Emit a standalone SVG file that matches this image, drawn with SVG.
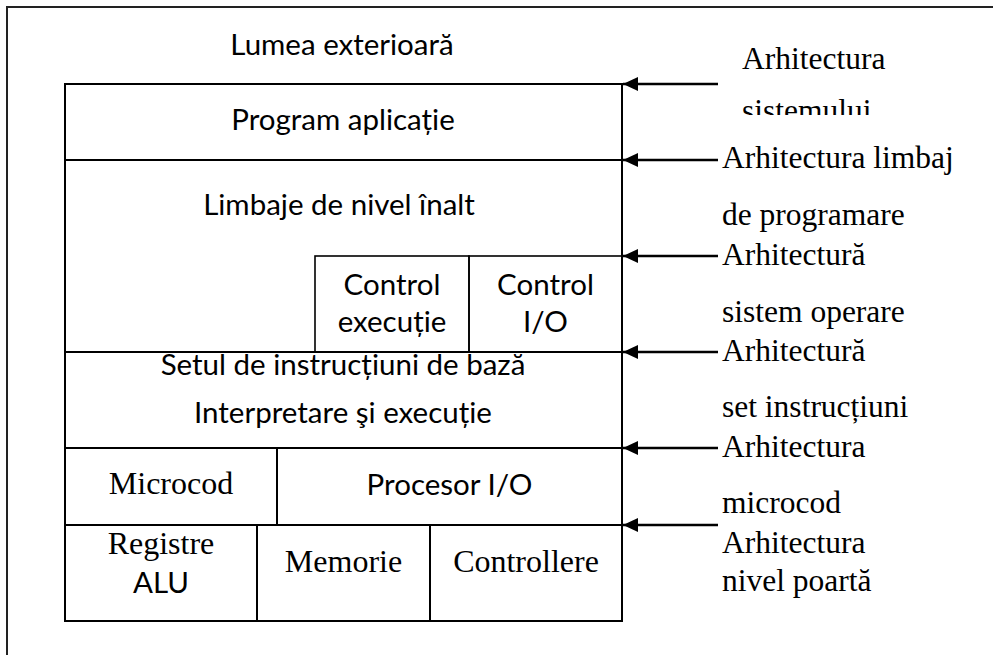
<svg xmlns="http://www.w3.org/2000/svg" width="993" height="655" viewBox="0 0 993 655">
  <style>
    .box { fill: #ffffff; stroke: #000000; stroke-width: 2; }
    .cell { fill: none; stroke: #000000; stroke-width: 1.6; }
    .frame { fill: none; stroke: #222222; stroke-width: 2; }
    .sans { font-family: Lato, "Liberation Sans", sans-serif; font-size: 29.5px; fill: #000000; text-anchor: middle; }
    .serif { font-family: "Liberation Serif", "Times New Roman", serif; font-size: 32px; fill: #000000; text-anchor: middle; }
    .side { font-family: "Liberation Serif", "Times New Roman", serif; font-size: 31.5px; fill: #000000; }
    .conn { stroke: #000000; stroke-width: 2.4; fill: none; marker-end: url(#head); }
  </style>
  <defs>
    <marker id="head" markerUnits="userSpaceOnUse" markerWidth="16" markerHeight="14" refX="15" refY="7" orient="auto">
      <path d="M0,0 L15,7 L0,14 Z" fill="#000000"/>
    </marker>
    <clipPath id="clip-top-label">
      <rect x="700" y="0" width="293" height="115"/>
    </clipPath>
  </defs>

  <rect x="0" y="0" width="993" height="655" fill="#ffffff"/>

  <!-- page frame -->
  <g id="frame">
    <path class="frame" d="M7,655 V7 H993"/>
    <text class="sans" x="342" y="55">Lumea exterioară</text>
  </g>

  <!-- layer stack -->
  <g id="layer-app">
    <rect class="box" x="65" y="84" width="557" height="76"/>
    <text class="sans" x="343" y="130">Program aplicație</text>
  </g>
  <g id="layer-hll">
    <rect class="box" x="65" y="160" width="557" height="192"/>
    <text class="sans" x="339" y="215">Limbaje de nivel înalt</text>
  </g>
  <g id="ctrl-exec">
    <rect class="cell" x="315" y="256" width="154" height="96"/>
    <text class="sans" x="392" y="295">Control</text>
    <text class="sans" x="392" y="332">execuție</text>
  </g>
  <g id="ctrl-io">
    <rect class="cell" x="469" y="256" width="153" height="96"/>
    <text class="sans" x="545.5" y="295">Control</text>
    <text class="sans" x="545.5" y="332">I/O</text>
  </g>
  <g id="layer-isa">
    <rect class="box" x="65" y="352" width="557" height="96"/>
    <text class="sans" x="343" y="375">Setul de instrucțiuni de bază</text>
    <text class="sans" x="343" y="423">Interpretare şi execuție</text>
  </g>
  <g id="microcod">
    <rect class="box" x="65" y="448" width="212" height="77"/>
    <text class="serif" x="171" y="494">Microcod</text>
  </g>
  <g id="procesor-io">
    <rect class="box" x="277" y="448" width="345" height="77"/>
    <text class="sans" x="449.5" y="495">Procesor I/O</text>
  </g>
  <g id="registre-alu">
    <rect class="box" x="65" y="525" width="192" height="96"/>
    <text class="serif" x="161" y="554">Registre</text>
    <text class="sans" x="161" y="593">ALU</text>
  </g>
  <g id="memorie">
    <rect class="box" x="257" y="525" width="173" height="96"/>
    <text class="serif" x="343.5" y="572">Memorie</text>
  </g>
  <g id="controllere">
    <rect class="box" x="430" y="525" width="192" height="96"/>
    <text class="serif" x="526" y="572">Controllere</text>
  </g>

  <!-- boundary arrows -->
  <g id="connectors">
    <line class="conn" x1="718" y1="84" x2="623" y2="84"/>
    <line class="conn" x1="718" y1="160" x2="623" y2="160"/>
    <line class="conn" x1="718" y1="256" x2="623" y2="256"/>
    <line class="conn" x1="718" y1="352" x2="623" y2="352"/>
    <line class="conn" x1="718" y1="448" x2="623" y2="448"/>
    <line class="conn" x1="718" y1="525" x2="623" y2="525"/>
  </g>

  <!-- architecture level names -->
  <g id="labels">
    <text class="side" x="742" y="69">Arhitectura</text>
    <text class="side" x="742" y="121" clip-path="url(#clip-top-label)">sistemului</text>
    <text class="side" x="722" y="168">Arhitectura limbaj</text>
    <text class="side" x="722" y="225">de programare</text>
    <text class="side" x="722" y="265">Arhitectură</text>
    <text class="side" x="722" y="322">sistem operare</text>
    <text class="side" x="722" y="361">Arhitectură</text>
    <text class="side" x="722" y="417">set instrucțiuni</text>
    <text class="side" x="722" y="457">Arhitectura</text>
    <text class="side" x="722" y="513">microcod</text>
    <text class="side" x="722" y="553">Arhitectura</text>
    <text class="side" x="722" y="591">nivel poartă</text>
  </g>
</svg>
